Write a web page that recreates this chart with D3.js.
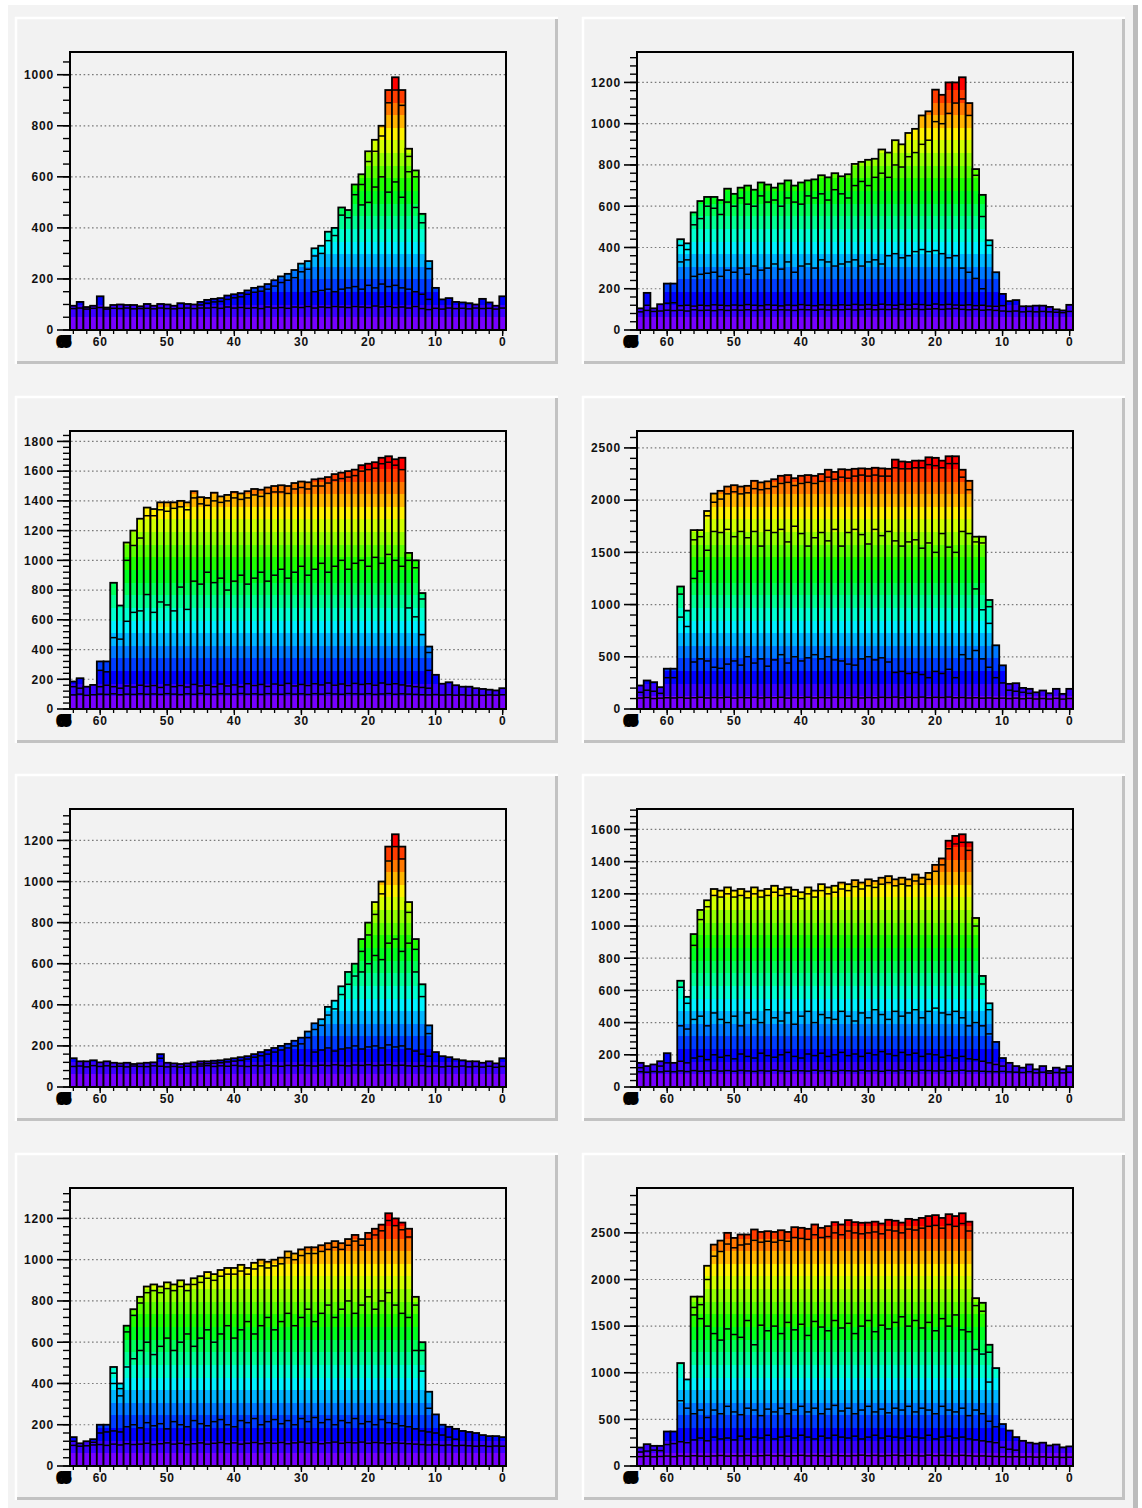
<!DOCTYPE html>
<html>
<head>
<meta charset="utf-8">
<script src="https://cdn.jsdelivr.net/npm/d3@7"></script>
<style>
  html, body { margin: 0; padding: 0; background: #ffffff; }
  svg { display: block; }
</style>
</head>
<body>
<script>
// Eight stacked histograms, 65 bins each (bin 64 on the left, bin 0 on the right).
const bins = d3.range(64, -1, -1);

// x axis tick labels
const xMajor = [60, 50, 40, 30, 20, 10, 0];

// ---------- panel 1 ----------
const tot1 = [95,110,90,95,132,88,98,100,98,98,
  93,102,95,102,100,95,105,102,100,110,
  118,122,125,135,140,145,155,165,170,180,
  195,210,220,235,260,270,320,330,385,400,
  480,470,570,610,700,745,800,940,990,940,
  710,625,455,270,165,120,125,110,108,105,
  100,122,108,95,132];
const l1a = [84,86,82,85,88,82,85,84,86,83,
  84,85,83,86,84,83,85,86,84,86,
  86,88,85,90,86,88,85,87,84,90,
  86,88,85,90,88,92,86,90,88,92,
  90,88,92,90,88,94,90,92,88,90,
  86,92,84,80,85,82,86,84,85,83,
  86,84,85,82,86];
const l1b = [0,0,0,0,0,0,0,0,0,0,
  0,0,0,0,0,0,0,0,0,98,
  105,110,112,120,126,130,140,148,152,160,
  172,186,195,205,228,238,150,155,160,150,
  160,165,170,160,175,165,180,170,175,165,
  160,150,140,120,0,0,0,0,0,0,
  0,0,0,0,0];
const l1c = [0,0,0,0,0,0,0,0,0,0,
  0,0,0,0,0,0,0,0,0,0,
  0,0,0,0,0,0,0,0,0,0,
  0,0,0,0,0,0,290,300,350,370,
  450,440,530,490,500,560,600,540,580,520,
  620,480,420,240,0,0,0,0,0,0,
  0,0,0,0,0];
const l1d = [0,0,0,0,0,0,0,0,0,0,
  0,0,0,0,0,0,0,0,0,0,
  0,0,0,0,0,0,0,0,0,0,
  0,0,0,0,0,0,0,0,0,0,
  0,0,0,570,660,700,760,890,940,880,
  680,600,0,0,0,0,0,0,0,0,
  0,0,0,0,0];
const yTicks1 = [0,200,400,600,800,1000];

// ---------- panel 2 ----------
const tot2 = [105,180,105,125,225,225,440,420,570,625,
  645,645,630,685,660,690,700,680,715,705,
  690,710,725,700,715,725,730,750,740,760,
  745,755,805,815,825,830,875,860,920,900,
  955,975,1040,1060,1165,1140,1200,1200,1225,1100,
  780,655,435,280,175,140,145,115,115,118,
  118,112,100,95,122];
const l2a = [88,95,90,92,96,94,96,92,98,95,
  96,94,98,95,97,96,98,95,97,99,
  96,98,97,95,99,98,96,100,97,99,
  98,100,97,99,101,98,100,99,102,98,
  100,102,99,101,103,100,102,104,100,98,
  100,96,98,95,92,90,92,88,90,88,
  90,88,86,84,90];
const l2b = [0,120,0,0,130,132,118,120,116,120,
  118,122,120,118,121,119,123,120,118,122,
  120,117,121,119,123,120,118,122,121,119,
  122,120,124,121,123,120,125,122,120,124,
  121,125,123,120,126,122,124,121,120,122,
  118,120,116,115,118,0,0,0,0,0,
  0,0,0,0,0];
const l2c = [0,0,0,0,0,0,330,340,260,270,
  275,280,260,290,280,300,270,310,290,300,
  320,295,330,280,310,320,300,340,330,310,
  320,330,340,310,330,340,320,360,370,350,
  360,380,390,380,385,370,350,360,300,280,
  250,200,0,0,0,0,0,0,0,0,
  0,0,0,0,0];
const l2d = [0,0,0,0,0,0,410,390,510,540,
  600,590,560,620,600,640,610,600,650,620,
  630,600,640,620,610,650,640,660,630,680,
  660,640,700,720,700,740,760,740,800,790,
  840,860,900,920,1010,1000,1050,1100,1120,1040,
  750,550,410,0,0,0,0,0,0,0,
  0,0,0,0,0];
const yTicks2 = [0,200,400,600,800,1000,1200];

// ---------- panel 3 ----------
const tot3 = [185,207,150,162,320,320,849,696,1120,1200,
  1280,1355,1345,1390,1390,1390,1400,1390,1465,1425,
  1420,1455,1430,1440,1460,1450,1465,1480,1475,1490,
  1500,1505,1500,1520,1530,1525,1545,1550,1560,1580,
  1590,1600,1610,1640,1650,1660,1690,1700,1680,1690,
  1050,1000,780,420,230,170,180,160,150,150,
  140,135,130,125,140];
const l3a = [95,100,92,96,100,98,102,96,100,98,
  102,99,101,98,103,100,97,102,99,104,
  100,98,103,101,99,104,100,102,98,103,
  101,99,104,100,102,98,103,100,105,101,
  99,104,102,100,103,98,101,104,99,102,
  100,98,96,95,97,94,96,93,95,92,
  94,92,95,93,96];
const l3b = [150,140,0,0,150,160,150,140,155,148,
  160,152,158,145,162,150,158,148,165,155,
  160,150,168,155,162,150,170,158,165,152,
  168,160,172,155,165,158,170,162,175,160,
  168,158,172,165,170,160,175,165,170,162,
  155,150,145,140,0,0,0,0,0,0,
  0,0,0,0,0];
const l3c = [0,0,0,0,260,250,480,470,590,650,
  660,770,650,720,700,660,820,670,860,840,
  920,850,880,800,860,900,840,880,920,860,
  900,940,880,920,960,900,940,980,920,960,
  1000,940,980,1000,960,1020,980,1040,1000,960,
  680,620,500,260,0,0,0,0,0,0,
  0,0,0,0,0];
const l3d = [0,0,0,0,0,0,0,0,1000,1100,
  1150,1300,1300,1340,1330,1350,1360,1340,1420,1380,
  1370,1400,1390,1400,1420,1410,1420,1440,1430,1450,
  1460,1460,1450,1480,1490,1480,1500,1500,1520,1540,
  1550,1560,1570,1600,1610,1620,1650,1660,1640,1610,
  1000,950,740,380,0,0,0,0,0,0,
  0,0,0,0,0];
const yTicks3 = [0,200,400,600,800,1000,1200,1400,1600,1800];

// ---------- panel 4 ----------
const tot4 = [225,273,257,209,386,386,1173,942,1713,1713,
  1896,2063,2089,2130,2143,2130,2137,2185,2170,2180,
  2200,2233,2240,2210,2233,2240,2233,2250,2291,2270,
  2296,2291,2300,2304,2300,2310,2304,2300,2388,2370,
  2365,2378,2378,2410,2405,2378,2420,2420,2291,2185,
  1650,1650,1044,610,418,241,247,202,193,160,
  177,151,193,145,193];
const l4a = [105,110,100,104,108,106,110,104,108,112,
  106,110,108,112,105,110,108,112,106,110,
  108,112,105,110,108,112,106,110,108,112,
  110,108,112,106,110,108,112,110,114,108,
  112,110,114,108,112,110,114,108,110,106,
  108,104,106,102,104,100,104,98,102,96,
  100,96,102,95,100];
const l4b = [160,180,170,150,300,300,880,790,450,480,
  460,400,390,430,460,420,500,440,480,410,
  470,520,440,500,460,490,520,480,500,470,
  460,430,420,480,500,470,490,450,350,360,
  340,350,330,300,360,340,380,300,520,480,
  560,480,400,300,250,180,170,160,150,0,
  0,0,0,0,0];
const l4c = [0,0,0,0,0,0,0,0,1250,1320,
  1520,1700,1690,1720,1650,1700,1640,1700,1560,1710,
  1690,1720,1600,1750,1680,1560,1640,1690,1610,1720,
  1560,1690,1720,1670,1580,1720,1660,1700,1610,1560,
  1600,1620,1540,1590,1500,1680,1550,1500,1700,1680,
  1150,950,820,0,0,0,0,0,0,0,
  0,0,0,0,0];
const l4d = [0,0,0,0,0,0,1100,0,1620,1650,
  1850,1980,2010,2060,2080,2060,2070,2110,2100,2110,
  2130,2160,2170,2140,2160,2170,2160,2180,2220,2200,
  2220,2210,2230,2240,2230,2240,2230,2230,2310,2300,
  2300,2310,2310,2340,2330,2310,2350,2350,2220,2100,
  1600,1590,980,0,0,0,0,0,0,0,
  0,0,0,0,0];
const yTicks4 = [0,500,1000,1500,2000,2500];

// ---------- panel 5 ----------
const tot5 = [140,125,125,130,120,125,118,115,118,112,
  115,118,120,160,118,115,112,115,120,125,
  125,128,130,135,140,145,150,160,170,180,
  190,200,210,225,240,270,310,330,390,420,
  490,560,600,720,800,900,1000,1170,1230,1170,
  900,720,500,300,170,150,145,135,130,125,
  125,118,125,115,140];
const l5a = [100,102,98,104,100,103,99,101,98,102,
  100,99,103,101,98,100,97,101,99,102,
  104,100,103,101,105,102,100,104,102,106,
  103,101,105,103,106,104,102,106,104,108,
  105,103,107,105,108,104,106,108,104,106,
  103,101,104,100,102,98,101,99,102,98,
  100,97,101,96,100];
const l5b = [0,0,0,0,0,0,0,0,0,0,
  0,0,0,140,0,0,0,0,0,112,
  114,116,118,122,126,130,136,145,152,160,
  170,180,190,200,210,240,170,180,190,175,
  185,190,200,185,195,200,190,205,195,200,
  185,175,160,150,0,0,0,0,0,0,
  0,0,0,0,0];
const l5c = [0,0,0,0,0,0,0,0,0,0,
  0,0,0,0,0,0,0,0,0,0,
  0,0,0,0,0,0,0,0,0,0,
  0,0,0,0,0,0,280,300,350,380,
  450,500,540,560,600,640,620,700,720,660,
  700,560,440,260,0,0,0,0,0,0,
  0,0,0,0,0];
const l5d = [0,0,0,0,0,0,0,0,0,0,
  0,0,0,0,0,0,0,0,0,0,
  0,0,0,0,0,0,0,0,0,0,
  0,0,0,0,0,0,0,0,0,0,
  0,0,0,660,740,840,940,1100,1170,1110,
  850,670,0,0,0,0,0,0,0,0,
  0,0,0,0,0];
const yTicks5 = [0,200,400,600,800,1000,1200];

// ---------- panel 6 ----------
const tot6 = [150,130,140,160,210,150,660,560,950,1100,
  1160,1230,1220,1240,1220,1230,1215,1240,1220,1230,
  1250,1230,1240,1225,1210,1240,1220,1260,1240,1250,
  1270,1260,1285,1270,1290,1280,1300,1310,1290,1300,
  1290,1320,1300,1330,1380,1420,1530,1560,1570,1520,
  1050,690,520,280,180,150,130,120,140,110,
  130,100,120,110,130];
const l6a = [95,92,96,94,98,95,100,96,102,98,
  100,104,99,102,98,103,100,97,102,99,
  104,100,98,103,101,99,104,100,102,98,
  103,101,99,104,100,102,98,103,100,105,
  101,99,104,102,100,103,98,101,104,99,
  100,98,96,95,97,94,92,90,95,88,
  92,86,90,88,92];
const l6b = [120,0,0,130,150,0,160,150,180,190,
  170,200,185,195,175,205,190,180,210,195,
  185,200,215,190,180,205,195,210,190,200,
  215,195,205,190,210,200,220,205,195,215,
  200,210,190,205,200,185,195,180,190,175,
  170,160,150,140,130,0,0,0,0,0,
  0,0,0,0,0];
const l6c = [0,0,0,0,0,0,380,360,420,440,
  380,460,420,400,440,380,460,420,400,480,
  430,410,460,390,440,470,400,450,430,420,
  470,440,410,460,430,480,450,420,470,440,
  460,480,430,470,490,460,450,470,430,380,
  400,380,330,0,0,0,0,0,0,0,
  0,0,0,0,0];
const l6d = [0,0,0,0,0,0,620,520,880,1040,
  1120,1190,1180,1200,1180,1190,1175,1200,1180,1190,
  1210,1190,1200,1185,1170,1200,1180,1220,1200,1210,
  1230,1220,1245,1230,1250,1240,1260,1270,1250,1260,
  1250,1280,1260,1290,1340,1380,1480,1510,1520,1470,
  1000,640,480,0,0,0,0,0,0,0,
  0,0,0,0,0];
const yTicks6 = [0,200,400,600,800,1000,1200,1400,1600];

// ---------- panel 7 ----------
const tot7 = [140,110,120,130,200,200,480,400,680,760,
  820,870,880,870,890,880,900,880,910,920,
  940,930,950,960,960,975,960,985,1000,990,
  1000,1010,1040,1030,1050,1060,1060,1070,1080,1090,
  1080,1100,1120,1100,1130,1150,1170,1225,1200,1180,
  1150,820,600,360,250,200,190,180,170,165,
  160,150,145,145,140];
const l7a = [100,96,98,102,104,100,106,102,108,104,
  106,110,104,108,112,106,110,104,108,112,
  106,110,114,108,112,106,110,114,108,112,
  110,114,108,112,116,110,114,108,112,116,
  110,114,112,116,110,114,112,108,112,110,
  108,106,104,102,104,100,102,98,100,98,
  96,98,95,97,96];
const l7b = [120,0,0,115,160,165,170,165,190,200,
  185,210,195,205,180,215,200,190,220,205,
  195,215,225,200,190,220,210,230,200,215,
  225,205,220,200,230,215,235,210,225,200,
  220,210,230,205,215,200,225,210,205,195,
  190,180,170,165,160,150,140,130,0,0,
  0,0,0,0,0];
const l7c = [0,0,0,0,0,0,400,340,480,520,
  560,600,540,580,620,560,600,640,580,620,
  660,600,640,680,620,660,700,640,680,720,
  660,700,740,680,720,760,700,740,780,720,
  760,800,740,780,820,760,800,840,780,740,
  720,560,460,280,0,0,0,0,0,0,
  0,0,0,0,0];
const l7d = [0,0,0,0,0,0,450,375,650,730,
  790,840,850,840,860,850,870,850,880,890,
  910,900,920,930,930,945,930,955,970,960,
  970,980,1010,1000,1020,1030,1030,1040,1050,1060,
  1050,1070,1090,1070,1100,1120,1140,1190,1165,1145,
  1110,780,560,0,0,0,0,0,0,0,
  0,0,0,0,0];
const yTicks7 = [0,200,400,600,800,1000,1200];

// ---------- panel 8 ----------
const tot8 = [198,234,216,216,370,370,1104,928,1816,1816,
  2147,2374,2417,2500,2446,2482,2482,2536,2510,2518,
  2510,2528,2510,2561,2554,2543,2590,2554,2572,2615,
  2590,2637,2615,2608,2610,2620,2600,2640,2630,2610,
  2650,2640,2660,2680,2690,2660,2700,2680,2710,2620,
  1800,1750,1300,1050,450,380,310,270,250,240,
  250,220,230,200,210];
const l8a = [100,104,98,102,106,100,108,104,110,106,
  104,108,112,106,110,108,112,106,110,114,
  108,112,106,110,114,108,112,110,106,114,
  110,108,112,116,110,114,108,112,116,110,
  114,112,108,116,110,114,112,108,114,110,
  106,108,104,102,100,98,100,96,98,95,
  98,94,96,92,95];
const l8b = [150,160,170,165,230,240,260,250,280,300,
  270,310,290,300,280,320,290,310,300,330,
  290,310,320,300,330,310,290,320,300,330,
  310,300,320,290,310,330,300,320,310,300,
  320,310,300,330,290,310,320,300,310,290,
  280,270,260,250,200,180,170,0,0,0,
  0,0,0,0,0];
const l8c = [0,0,0,0,0,0,700,620,560,600,
  520,600,560,640,580,550,620,600,540,610,
  580,620,560,600,640,580,620,560,610,650,
  590,620,560,600,640,580,610,570,620,600,
  640,580,620,600,560,640,600,580,620,540,
  600,560,480,420,0,0,0,0,0,0,
  0,0,0,0,0];
const l8d = [0,0,0,0,0,0,0,0,1620,1580,
  1500,1420,1350,1470,1410,1380,1560,1300,1510,1450,
  1500,1420,1540,1460,1520,1400,1550,1490,1450,1560,
  1480,1530,1420,1500,1560,1440,1510,1470,1540,1600,
  1500,1560,1480,1540,1450,1580,1500,1620,1460,1440,
  1250,1200,900,0,0,0,0,0,0,0,
  0,0,0,0,0];
const l8e = [0,0,0,0,0,0,0,0,1700,1730,
  2000,2250,2300,2380,2340,2370,2380,2420,2400,2410,
  2400,2420,2410,2450,2440,2430,2480,2450,2460,2500,
  2480,2520,2500,2490,2500,2510,2490,2530,2520,2500,
  2540,2530,2550,2570,2580,2550,2590,2570,2600,2520,
  1720,1660,1220,0,0,0,0,0,0,0,
  0,0,0,0,0];
const yTicks8 = [0,500,1000,1500,2000,2500];

// Panel table, row by row (left, right)
const panels = [
  { tot: tot1, lines: [l1a, l1b, l1c, l1d], ticks: yTicks1, minor: 4 },
  { tot: tot2, lines: [l2a, l2b, l2c, l2d], ticks: yTicks2, minor: 5 },
  { tot: tot3, lines: [l3a, l3b, l3c, l3d], ticks: yTicks3, minor: 5 },
  { tot: tot4, lines: [l4a, l4b, l4c, l4d], ticks: yTicks4, minor: 5 },
  { tot: tot5, lines: [l5a, l5b, l5c, l5d], ticks: yTicks5, minor: 5 },
  { tot: tot6, lines: [l6a, l6b, l6c, l6d], ticks: yTicks6, minor: 5 },
  { tot: tot7, lines: [l7a, l7b, l7c, l7d], ticks: yTicks7, minor: 5 },
  { tot: tot8, lines: [l8a, l8b, l8c, l8d, l8e], ticks: yTicks8, minor: 5 }
];

// ---------- layout ----------
const W = 1142, H = 1508;
const padX = [16, 583], padY = [18, 397, 775, 1154];
const padW = 542, padH = 346;
const fr = { l: 54, t: 34, w: 436, h: 278 };
const FONT = "'Liberation Sans', Arial, Helvetica, sans-serif";

// 20-level violet-to-red palette, one colour per contour band
const NLEV = 20;
const palette = d3.range(NLEV).map(k => d3.hsl(268 * (1 - k / (NLEV - 1)), 1, 0.5).formatHex());

const svg = d3.select("body").append("svg")
  .attr("width", W).attr("height", H)
  .attr("viewBox", `0 0 ${W} ${H}`);
const defs = svg.append("defs");

// canvas
svg.append("rect").attr("x", 0).attr("y", 0).attr("width", W).attr("height", H).attr("fill", "#ffffff");
svg.append("rect").attr("x", 8).attr("y", 5).attr("width", 1126).attr("height", 1503).attr("fill", "#f3f3f3");
svg.append("rect").attr("x", 1133).attr("y", 5).attr("width", 5).attr("height", 1503).attr("fill", "#bcbcbc");

panels.forEach((P, pi) => {
  const col = pi % 2, row = Math.floor(pi / 2);
  const px = padX[col], py = padY[row];

  // pad with bevelled border
  const pad = svg.append("g").attr("transform", `translate(${px},${py})`);
  pad.append("rect").attr("width", padW).attr("height", padH).attr("fill", "#f2f2f2");
  pad.append("path").attr("d", `M0,${padH} V0 H${padW}`).attr("fill", "none")
    .attr("stroke", "#ffffff").attr("stroke-width", 2.5);
  pad.append("path").attr("d", `M1,${padH - 1.5} H${padW - 1.5} V1`).attr("fill", "none")
    .attr("stroke", "#c2c2c2").attr("stroke-width", 3);

  const g = pad.append("g").attr("transform", `translate(${fr.l},${fr.t})`);

  const x = d3.scaleLinear().domain([64.5, -0.5]).range([0, fr.w]);
  const vmax = d3.max(P.tot);
  const y = d3.scaleLinear().domain([0, vmax * 1.1]).range([fr.h, 0]);
  const bw = x(0) - x(1);

  // banded fill: colour depends on height, bands span 0..histogram maximum
  const gid = "band" + pi;
  const grad = defs.append("linearGradient").attr("id", gid)
    .attr("gradientUnits", "userSpaceOnUse")
    .attr("x1", 0).attr("x2", 0).attr("y1", y(0)).attr("y2", y(vmax));
  palette.forEach((c, k) => {
    grad.append("stop").attr("offset", k / NLEV).attr("stop-color", c);
    grad.append("stop").attr("offset", (k + 1) / NLEV).attr("stop-color", c);
  });

  // dotted horizontal grid
  g.selectAll("line.grid").data(P.ticks.filter(t => t > 0)).join("line")
    .attr("class", "grid")
    .attr("x1", 1).attr("x2", fr.w - 1)
    .attr("y1", d => y(d)).attr("y2", d => y(d))
    .attr("stroke", "#7a7a7a").attr("stroke-width", 1.2)
    .attr("stroke-dasharray", "1.6,2.6");

  // bars
  g.selectAll("rect.bar").data(P.tot).join("rect")
    .attr("class", "bar")
    .attr("x", (d, i) => x(bins[i] + 0.5))
    .attr("width", bw)
    .attr("y", d => y(d))
    .attr("height", d => y(0) - y(d))
    .attr("fill", `url(#${gid})`)
    .attr("stroke", "#000").attr("stroke-width", 1.8);

  // boundaries of the stacked layers inside each bar
  P.lines.forEach(arr => {
    const segs = arr.map((v, i) => ({ v, i })).filter(o => o.v > 0 && o.v < P.tot[o.i]);
    g.selectAll(null).data(segs).join("line")
      .attr("x1", o => x(bins[o.i] + 0.5))
      .attr("x2", o => x(bins[o.i] - 0.5))
      .attr("y1", o => y(o.v)).attr("y2", o => y(o.v))
      .attr("stroke", "#000").attr("stroke-width", 1.5);
  });

  // frame
  g.append("rect").attr("width", fr.w).attr("height", fr.h)
    .attr("fill", "none").attr("stroke", "#000").attr("stroke-width", 2);

  // y axis: ticks outside on the left
  const step = P.ticks[1] - P.ticks[0];
  const minorStep = step / P.minor;
  const minors = d3.range(0, vmax * 1.1 + 1e-6, minorStep);
  g.selectAll("line.ymin").data(minors).join("line")
    .attr("x1", -7).attr("x2", 0)
    .attr("y1", d => y(d)).attr("y2", d => y(d))
    .attr("stroke", "#000").attr("stroke-width", 1.4);
  g.selectAll("line.ymaj").data(P.ticks).join("line")
    .attr("x1", -13).attr("x2", 0)
    .attr("y1", d => y(d)).attr("y2", d => y(d))
    .attr("stroke", "#000").attr("stroke-width", 1.6);
  g.selectAll("text.ylab").data(P.ticks).join("text")
    .attr("x", -16).attr("y", d => y(d)).attr("dy", "0.36em")
    .attr("text-anchor", "end")
    .attr("font-family", FONT).attr("font-size", 12).attr("font-weight", "bold")
    .attr("letter-spacing", "0.8px").attr("fill", "#111")
    .text(d => d);

  // x axis: ticks below the frame
  g.selectAll("line.xmin").data(d3.range(64, -1, -2)).join("line")
    .attr("x1", d => x(d)).attr("x2", d => x(d))
    .attr("y1", fr.h).attr("y2", fr.h + 4)
    .attr("stroke", "#000").attr("stroke-width", 1.3);
  g.selectAll("line.xmaj").data(xMajor).join("line")
    .attr("x1", d => x(d)).attr("x2", d => x(d))
    .attr("y1", fr.h).attr("y2", fr.h + 6)
    .attr("stroke", "#000").attr("stroke-width", 1.4);
  g.selectAll("text.xlab").data(xMajor).join("text")
    .attr("x", d => x(d)).attr("y", fr.h + 16)
    .attr("text-anchor", "middle")
    .attr("font-family", FONT).attr("font-size", 12).attr("font-weight", "bold")
    .attr("letter-spacing", "0.8px").attr("fill", "#111")
    .text(d => d);
  // crowded label at the low edge of the axis
  g.append("text")
    .attr("x", x(65.5)).attr("y", fr.h + 16)
    .attr("text-anchor", "middle")
    .attr("font-family", FONT).attr("font-size", 12).attr("font-weight", "bold")
    .attr("letter-spacing", "-1px")
    .attr("fill", "#000").attr("stroke", "#000").attr("stroke-width", 4)
    .attr("stroke-linejoin", "miter")
    .text("65");
});
</script>
</body>
</html>
